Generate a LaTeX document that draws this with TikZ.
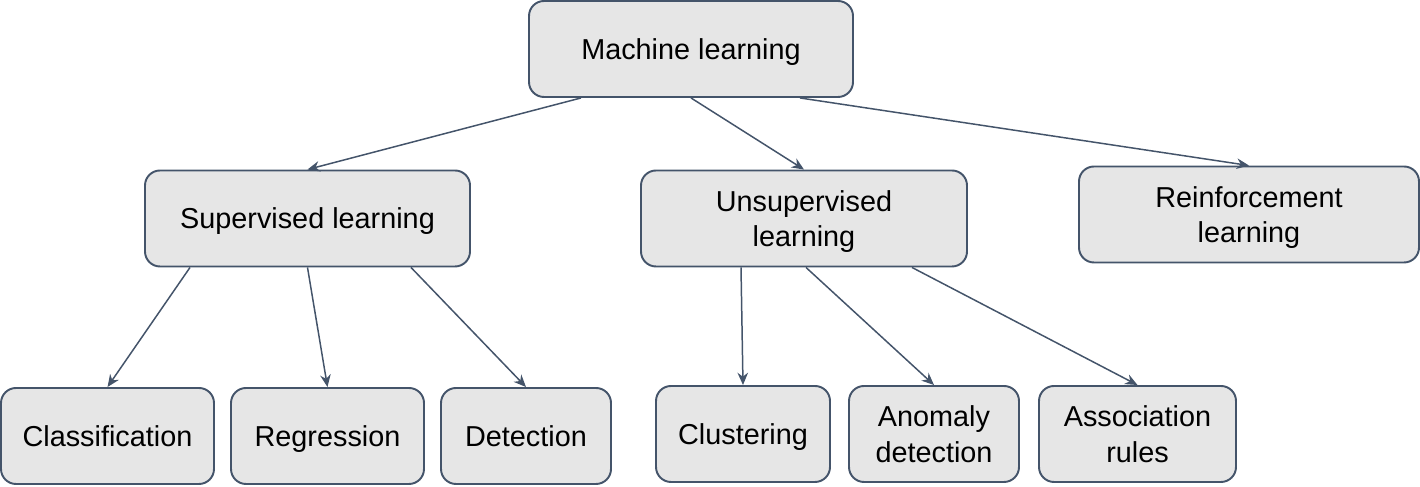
\documentclass[tikz,border=0pt]{standalone}
\usepackage{fontspec}
\setmainfont{Liberation Sans}
\usepackage{tikz}
\usetikzlibrary{arrows.meta}
\definecolor{boxfill}{HTML}{E6E6E6}
\definecolor{edge}{HTML}{44546A}
\tikzset{
  box/.style={draw=edge, fill=boxfill, line width=1.1pt, rounded corners=0.3cm,
    minimum height=1.92cm, inner sep=0pt, align=center, text depth=0pt,
    font=\fontsize{16.4}{20}\selectfont},
  arr/.style={draw=edge, line width=0.85pt, -{Stealth[length=7pt, width=6pt]}}
}

\begin{document}
\begin{tikzpicture}
          \useasboundingbox (0,0) rectangle (28.4,9.74);
          % top
          \node[box, minimum width=6.48cm] (ml) at (13.82,8.76) {Machine learning};
          % second row
          \node[box, minimum width=6.5cm] (sup) at (6.15,5.37) {Supervised learning};
          \node[box, minimum width=6.52cm] (unsup) at (16.08,5.37) {Unsupervised\\learning};
          \node[box, minimum width=6.8cm] (reinf) at (24.98,5.45) {Reinforcement\\learning};
          % bottom row
          \node[box, minimum width=4.26cm] (class) at (2.15,1.02) {Classification};
          \node[box, minimum width=3.86cm] (regr) at (6.55,1.02) {Regression};
          \node[box, minimum width=3.4cm] (det) at (10.52,1.02) {Detection};
          \node[box, minimum width=3.48cm] (clust) at (14.86,1.06) {Clustering};
          \node[box, minimum width=3.4cm] (anom) at (18.68,1.06) {Anomaly\\detection};
          \node[box, minimum width=3.94cm] (assoc) at (22.75,1.06) {Association\\rules};
          % arrows
          \draw[arr] ([xshift=-2.2cm]ml.south) -- (sup.north);
          \draw[arr] (ml.south) -- (unsup.north);
          \draw[arr] ([xshift=2.18cm]ml.south) -- (reinf.north);
          \draw[arr] ([xshift=-2.35cm]sup.south) -- (class.north);
          \draw[arr] (sup.south) -- (regr.north);
          \draw[arr] ([xshift=2.07cm]sup.south) -- (det.north);
          \draw[arr] ([xshift=-1.26cm]unsup.south) -- (clust.north);
          \draw[arr] ([xshift=0.04cm]unsup.south) -- (anom.north);
          \draw[arr] ([xshift=2.16cm]unsup.south) -- (assoc.north);
\end{tikzpicture}
\end{document}
